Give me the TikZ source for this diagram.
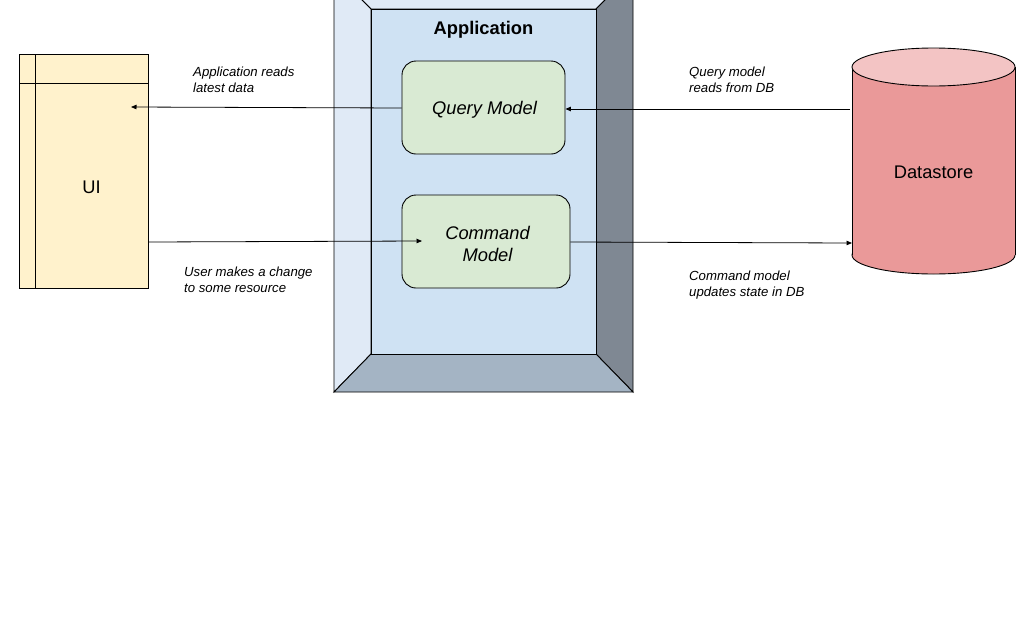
\documentclass[tikz,border=0pt]{standalone}
\usepackage{fontspec}
\setmainfont{Liberation Sans}
\usetikzlibrary{arrows.meta}
\definecolor{bevlight}{HTML}{E0EAF6}
\definecolor{bevinner}{HTML}{CFE2F3}
\definecolor{bevright}{HTML}{7F8893}
\definecolor{bevbottom}{HTML}{A4B4C4}
\definecolor{modelfill}{HTML}{D9EAD3}
\definecolor{uifill}{HTML}{FFF2CC}
\definecolor{dsbody}{HTML}{EA9999}
\definecolor{dstop}{HTML}{F3C4C4}
\tikzset{
  line/.style={draw=black, line width=0.9pt},
  model/.style={line, fill=modelfill, rounded corners=14pt, minimum height=93pt, inner sep=0pt},
  modeltext/.style={align=center, inner sep=0pt, font=\fontsize{18.3}{22}\selectfont\itshape},
  note/.style={anchor=west, align=left, inner sep=0pt, font=\fontsize{13.2}{16}\selectfont\itshape},
  arr/.style={draw=black, line width=0.8pt, -{Triangle[length=5.5pt,width=4.5pt]}},
}
\begin{document}
\begin{tikzpicture}[x=1pt,y=-1pt]
\useasboundingbox (0,0) rectangle (1024,640);
\clip (0,0) rectangle (1024,640);
\fill[white] (0,0) rectangle (1024,640);
% application bevel frame
\filldraw[line, fill=bevlight] (334,-28) -- (633,-28) -- (596,9) -- (371,9) -- cycle;
\filldraw[line, fill=bevlight] (334,-28) -- (371,9) -- (371,354) -- (334,392) -- cycle;
\filldraw[line, fill=bevright] (633,-28) -- (596,9) -- (596,354) -- (633,392) -- cycle;
\filldraw[line, fill=bevbottom] (334,392) -- (371,354) -- (596,354) -- (633,392) -- cycle;
\node[line, fill=bevinner, minimum width=225pt, minimum height=345pt, inner sep=0pt] (app) at (483.5,181.5) {};
\node[font=\fontsize{18.3}{22}\selectfont\bfseries] (apptitle) at (483.5,30) {Application};
% models
\node[model, minimum width=163pt] (qm) at (483.5,107.5) {};
\node[modeltext] (qmtext) at (484.5,110) {Query Model};
\node[model, minimum width=168pt] (cm) at (486,241.5) {};
\node[modeltext] (cmtext) at (487.5,243.5) {Command\\Model};
% UI
\node[line, fill=uifill, minimum width=129pt, minimum height=234pt, inner sep=0pt] (ui) at (83.5,171) {};
\draw[line] (35,54) -- (35,288);
\draw[line] (19,83) -- (148,83);
\node[font=\fontsize{18.3}{22}\selectfont] (uilabel) at (91.5,187) {UI};
% Datastore cylinder
\filldraw[line, fill=dsbody] (933.5,255) ellipse[x radius=81.5pt, y radius=19pt];
\fill[dsbody] (852,67) rectangle (1015,255);
\draw[line] (852,67) -- (852,255);
\draw[line] (1015,67) -- (1015,255);
\filldraw[line, fill=dstop] (933.5,67) ellipse[x radius=81.5pt, y radius=19pt];
\node[minimum width=163pt, minimum height=226pt, inner sep=0pt] (ds) at (933.5,161) {};
\node[font=\fontsize{18.3}{22}\selectfont] (dslabel) at (933.5,172) {Datastore};
% connector end points
\coordinate (uiin) at (131,107);
\coordinate (cmin) at (422,241);
\coordinate (dsout) at (850,109);
\coordinate (dsin) at (852,243);
% connectors
\draw[arr] (qm.west |- 0,108) -- (uiin);
\draw[arr] (ui.east |- 0,242) -- (cmin);
\draw[arr] (dsout) -- (qm.east |- dsout);
\draw[arr] (cm.east |- 0,242) -- (dsin);
% notes
\node[note] (n1) at (193,80) {Application reads\\latest data};
\node[note] (n2) at (184,280) {User makes a change\\to some resource};
\node[note] (n3) at (689,80) {Query model\\reads from DB};
\node[note] (n4) at (689,285) {Command model\\updates state in DB};
\end{tikzpicture}
\end{document}
